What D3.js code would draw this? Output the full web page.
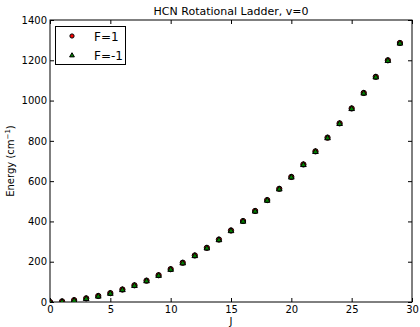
<!DOCTYPE html>
<html>
<head>
<meta charset="utf-8">
<script src="https://cdn.jsdelivr.net/npm/d3@7"></script>
<style>
  body { margin: 0; background: #fff; }
  svg text { font-family: "DejaVu Sans", sans-serif; fill: #000; }
</style>
</head>
<body>
<svg id="chart" width="420" height="327"></svg>
<script>
// rotational quantum number J
const jLevels = [0, 1, 2, 3, 4, 5, 6, 7, 8, 9, 10, 11, 12, 13, 14, 15, 16, 17, 18, 19, 20, 21, 22, 23, 24, 25, 26, 27, 28, 29];
// energies in cm^-1
const energyF1 = [0, 3, 9, 18, 30, 44, 62, 83, 106, 133, 163, 195, 231, 269, 310, 355, 402, 452, 506, 562, 621, 683, 748, 816, 887, 961, 1038, 1118, 1200, 1286];
const energyFm1 = [0, 3, 9, 18, 30, 44, 62, 83, 106, 133, 163, 195, 231, 269, 310, 355, 402, 452, 506, 562, 621, 683, 748, 816, 887, 961, 1038, 1118, 1200, 1286];
const xTicks = [0, 5, 10, 15, 20, 25, 30];
const yTicks = [0, 200, 400, 600, 800, 1000, 1200, 1400];

const margin = { left: 50, right: 8, top: 20, bottom: 25 };
const width = 420, height = 327;
const svg = d3.select("#chart");

const x = d3.scaleLinear().domain([0, 30]).range([margin.left, width - margin.right]);
const y = d3.scaleLinear().domain([0, 1400]).range([height - margin.bottom, margin.top]);

svg.append("defs").append("clipPath").attr("id", "plot-clip")
  .append("rect")
  .attr("x", x(0)).attr("y", y(1400))
  .attr("width", x(30) - x(0)).attr("height", y(0) - y(1400));

// axes, ticks inward on all four sides
const tickLen = 4;
const fmt = d3.format("d");
svg.append("g").attr("transform", `translate(0,${y(0)})`)
  .call(d3.axisBottom(x).tickValues(xTicks).tickSize(-tickLen).tickPadding(4).tickFormat(fmt))
  .call(g => g.select(".domain").remove());
svg.append("g").attr("transform", `translate(0,${y(1400)})`)
  .call(d3.axisTop(x).tickValues(xTicks).tickSize(-tickLen).tickFormat(""))
  .call(g => g.select(".domain").remove());
svg.append("g").attr("transform", `translate(${x(0)},0)`)
  .call(d3.axisLeft(y).tickValues(yTicks).tickSize(-tickLen).tickPadding(3).tickFormat(fmt))
  .call(g => g.select(".domain").remove());
svg.append("g").attr("transform", `translate(${x(30)},0)`)
  .call(d3.axisRight(y).tickValues(yTicks).tickSize(-tickLen).tickFormat(""))
  .call(g => g.select(".domain").remove());

svg.selectAll(".tick text").attr("font-size", 10).attr("font-family", "DejaVu Sans").attr("fill", "#000");
svg.selectAll(".tick line").attr("stroke", "#000");

svg.append("rect")
  .attr("x", x(0)).attr("y", y(1400))
  .attr("width", x(30) - x(0)).attr("height", y(0) - y(1400))
  .attr("fill", "none").attr("stroke", "#000").attr("stroke-width", 1);

// points
const plot = svg.append("g").attr("clip-path", "url(#plot-clip)");
const circle = d3.symbol().type(d3.symbolCircle).size(22);
const tri = d3.symbol().type(d3.symbolTriangle).size(14);

plot.selectAll("path.f1").data(jLevels).enter().append("path")
  .attr("class", "f1")
  .attr("d", circle)
  .attr("transform", (d, i) => `translate(${x(d)},${y(energyF1[i])})`)
  .attr("fill", "#ff0000").attr("stroke", "#000").attr("stroke-width", 1);

plot.selectAll("path.fm1").data(jLevels).enter().append("path")
  .attr("class", "fm1")
  .attr("d", tri)
  .attr("transform", (d, i) => `translate(${x(d)},${y(energyFm1[i]) + 0.5})`)
  .attr("fill", "#008000").attr("stroke", "#000").attr("stroke-width", 1);

// title and axis labels
svg.append("text").attr("x", (x(0) + x(30)) / 2).attr("y", 15)
  .attr("text-anchor", "middle").attr("font-size", 11).attr("fill", "#000")
  .text("HCN Rotational Ladder, v=0");
svg.append("text").attr("x", (x(0) + x(30)) / 2).attr("y", 325)
  .attr("text-anchor", "middle").attr("font-size", 10).attr("fill", "#000")
  .text("J");
const yl = svg.append("text")
  .attr("transform", `translate(14,${(y(0) + y(1400)) / 2}) rotate(-90)`)
  .attr("text-anchor", "middle").attr("font-size", 10).attr("fill", "#000");
yl.append("tspan").text("Energy (cm");
yl.append("tspan").attr("dy", -4).attr("font-size", 7).text("−1");
yl.append("tspan").attr("dy", 4).text(")");

// legend
const legend = svg.append("g");
legend.append("rect")
  .attr("x", 55.5).attr("y", 26.5).attr("width", 70).attr("height", 38)
  .attr("fill", "#fff").attr("stroke", "#000").attr("stroke-width", 1);
const legendItems = [
  { label: "F=1", sym: d3.symbol().type(d3.symbolCircle).size(14), fill: "#ff0000", dy: 0 },
  { label: "F=-1", sym: d3.symbol().type(d3.symbolTriangle).size(10), fill: "#008000", dy: 0.5 }
];
legendItems.forEach((it, i) => {
  const cy = 36 + i * 19;
  legend.append("path").attr("d", it.sym)
    .attr("transform", `translate(72,${cy + it.dy})`)
    .attr("fill", it.fill).attr("stroke", "#000").attr("stroke-width", 1);
  legend.append("text").attr("x", 94).attr("y", cy + 4.5)
    .attr("font-size", 12).attr("fill", "#000").text(it.label);
});
</script>
</body>
</html>
